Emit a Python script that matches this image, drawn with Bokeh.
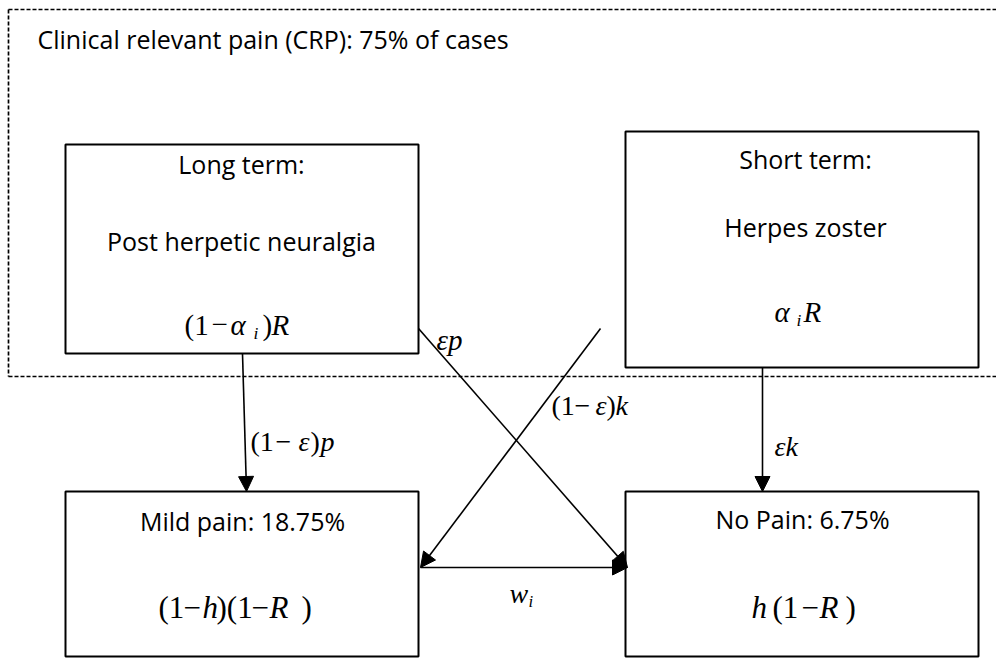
from bokeh.plotting import figure
from bokeh.models import Range1d, Arrow, NormalHead, ColumnDataSource
from bokeh.core.properties import value
from bokeh.embed import file_html
from bokeh.resources import INLINE

# ---------------- content (texts) ----------------
title_text = "Clinical relevant pain (CRP): 75% of cases"
node_titles = ["Long term:", "Short term:", "Mild pain: 18.75%", "No Pain: 6.75%"]
node_subtitles = ["Post herpetic neuralgia", "Herpes zoster"]

# formula pieces: (text, italic, subscript)
f_long = [("(1", False, False), ("\u2212", False, False), ("\u03b1", True, False),
          ("i", True, True), (")", False, False), ("R", True, False)]
f_short = [("\u03b1", True, False), ("i", True, True), ("R", True, False)]
f_ep = [("\u03b5p", True, False)]
f_1ep = [("(1", False, False), ("\u2212", False, False), ("\u03b5", True, False),
         (")", False, False), ("p", True, False)]
f_1ek = [("(1", False, False), ("\u2212", False, False), ("\u03b5", True, False),
         (")", False, False), ("k", True, False)]
f_ek = [("\u03b5k", True, False)]
f_w = [("w", True, False), ("i", True, True)]
f_mild = [("(1", False, False), ("\u2212", False, False), ("h", True, False),
          (")(1", False, False), ("\u2212", False, False), ("R", True, False), (")", False, False)]
f_none = [("h", True, False), ("(1", False, False), ("\u2212", False, False),
          ("R", True, False), (")", False, False)]

# ---------------- layout (pixel-like coordinates, y down) ----------------
boxes = dict(left=[65, 625, 65, 625], right=[418, 978, 418, 978],
             top=[144, 131, 491, 491], bottom=[353, 367, 656, 656])
title_pos = [(241, 163), (805, 158), (242, 520), (802, 518)]
sub_pos = [(241, 240), (805, 226)]

p = figure(width=996, height=658, x_range=Range1d(0, 996), y_range=Range1d(658, 0),
           output_backend="svg", toolbar_location=None, min_border=0)
p.axis.visible = False
p.grid.visible = False
p.outline_line_color = None
p.background_fill_color = "white"
p.border_fill_color = "white"

# dashed CRP region (open on the right)
p.multi_line(xs=[[8, 1000], [8, 8], [8, 1000]], ys=[[9, 9], [9, 376], [376, 376]],
             line_color="black", line_width=1.7, line_dash="4 2")

# boxes
p.quad(source=ColumnDataSource(boxes), left="left", right="right", top="top", bottom="bottom",
       fill_color="white", line_color="black", line_width=2)

# arrows
arrows = [((242, 353), (246, 491)), ((762, 367), (762, 491)),
          ((418, 328), (627, 567)), ((600, 328), (420, 567)), ((420, 567), (627, 567))]
for (x0, y0), (x1, y1) in arrows:
    p.add_layout(Arrow(start=None, end=NormalHead(size=15, fill_color="black", line_color="black"),
                       x_start=x0, y_start=y0, x_end=x1, y_end=y1,
                       line_color="black", line_width=1.6))

SANS = value("Open Sans")
SERIF = value("Liberation Serif")
SANS_SIZE = "25px"

p.text(x=[37], y=[38], text=[title_text], text_font=SANS, text_font_size=SANS_SIZE,
       text_align="left", text_baseline="middle", text_color="black")
p.text(x=[a for a, b in title_pos], y=[b for a, b in title_pos], text=node_titles,
       text_font=SANS, text_font_size=SANS_SIZE, text_align="center", text_baseline="middle",
       text_color="black")
p.text(x=[a for a, b in sub_pos], y=[b for a, b in sub_pos], text=node_subtitles,
       text_font=SANS, text_font_size=SANS_SIZE, text_align="center", text_baseline="middle",
       text_color="black")


def formula(pieces, xs, base, size, sub_drop=None):
    sub_drop = sub_drop if sub_drop is not None else size * 0.28
    for (txt, ital, sub), x in zip(pieces, xs):
        fs = size * 0.6 if sub else size
        y = base + sub_drop if sub else base
        p.text(x=[x], y=[y], text=[txt], text_font=SERIF, text_font_size=f"{fs:.1f}px",
               text_font_style="italic" if ital else "normal", text_align="left",
               text_baseline="alphabetic", text_color="black")


formula(f_long, [184, 211, 230, 253, 262, 271], 324, 29)
formula(f_short, [774, 796, 803], 311, 29)
formula(f_ep, [436], 339, 29)
formula(f_1ep, [250, 275, 298, 310, 320], 441, 28)
formula(f_1ek, [551, 574, 595, 606, 615], 405, 28)
formula(f_ek, [774], 446, 28)
formula(f_w, [509, 528], 593, 28)
formula(f_mild, [158, 183, 202, 216, 251, 269, 301], 607, 31)
formula(f_none, [751, 772, 801, 819, 845], 607, 31)

open("out.html", "w").write(file_html(p, INLINE))
